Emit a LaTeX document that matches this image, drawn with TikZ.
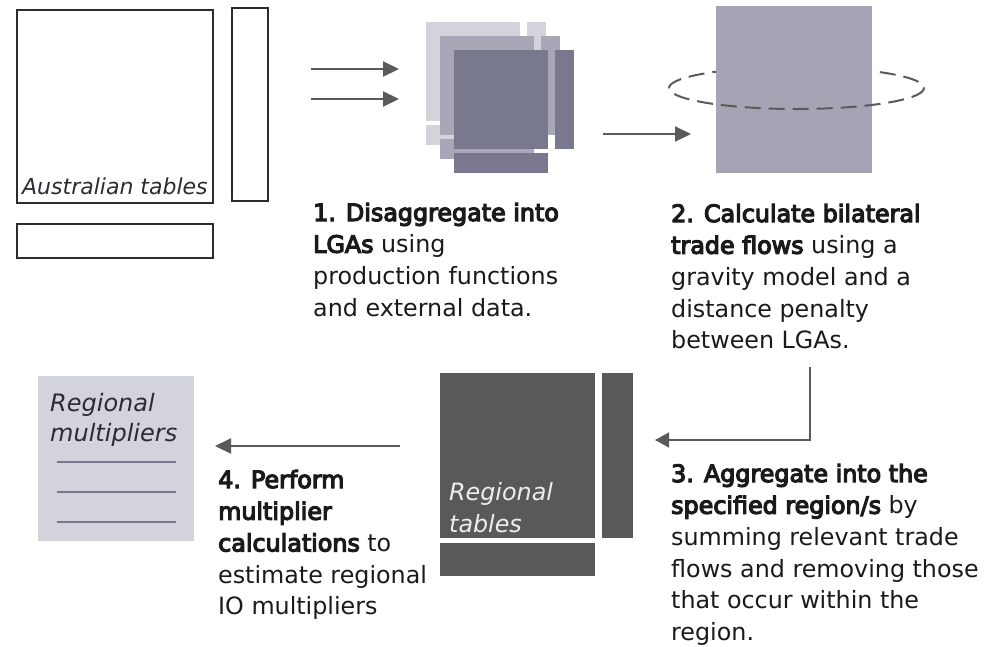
\documentclass[tikz,border=0pt]{standalone}
\usepackage{fontspec}
\setmainfont{DejaVu Sans}[BoldFont={DejaVu Sans}, BoldFeatures={FakeBold=5}]
\usetikzlibrary{arrows.meta}
\definecolor{txt}{HTML}{1A1A1A}
\definecolor{outl}{HTML}{2B2B33}
\definecolor{arr}{HTML}{5A5A5A}
\definecolor{lay1}{HTML}{D3D3DC}
\definecolor{lay2}{HTML}{A8A7B7}
\definecolor{lay3}{HTML}{78788F}
\definecolor{grav}{HTML}{A5A4B4}
\definecolor{regt}{HTML}{595959}
\definecolor{regtxt}{HTML}{EEEEEE}
\newcommand\bodyfnt{\fontsize{23.8}{31.7}\selectfont}
\newcommand\layerblock[1]{%
  \fill[#1] (0,0) rectangle (94,99);
  \fill[#1] (101,0) rectangle (120,99);
  \fill[#1] (0,103) rectangle (94,123);}
\tikzset{
  arrowline/.style={draw=arr, line width=2pt, -{Triangle[length=16pt,width=15pt]}},
  textblock/.style={anchor=base west, inner sep=0pt, text=txt, font=\bodyfnt},
  label/.style={anchor=base west, inner sep=0pt},
  tableline/.style={draw=outl, line width=1.8pt},
  ring/.style={draw=arr, line width=2pt, dash pattern=on 16pt off 8pt},
}
\begin{document}
\begin{tikzpicture}[x=1pt,y=-1pt]
\useasboundingbox (0,0) rectangle (992,646);

% Australian tables
\draw[tableline] (17,10) rectangle (213,203);
\draw[tableline] (232,8) rectangle (268,201);
\draw[tableline] (17,224) rectangle (213,258);
\node[label, text=outl, font=\fontsize{22}{26}\selectfont\itshape] (aus) at (22,194) {Australian tables};

% arrows into step 1
\coordinate (a1s) at (311,69); \coordinate (a1e) at (399,69);
\coordinate (a2s) at (311,99); \coordinate (a2e) at (399,99);
\draw[arrowline] (a1s) -- (a1e);
\draw[arrowline] (a2s) -- (a2e);

% stacked LGA tables
\begin{scope}[shift={(426,22)}]\layerblock{lay1}\end{scope}
\begin{scope}[shift={(440,36)}]\layerblock{lay2}\end{scope}
\begin{scope}[shift={(454,50)}]\layerblock{lay3}\end{scope}

% arrow into step 2
\coordinate (a3s) at (603,134); \coordinate (a3e) at (691,134);
\draw[arrowline] (a3s) -- (a3e);

% gravity square with ring
\coordinate (ring) at (796.5,88);
\draw[ring] (ring) ellipse [x radius=127.5, y radius=21];
\fill[grav] (716,6) rectangle (872,173);
\begin{scope}
\clip (716,88) rectangle (872,120);
\draw[ring] (ring) ellipse [x radius=127.5, y radius=21];
\end{scope}

% step texts
\node[textblock] (s1) at (313,221) {\begin{tabular}[t]{@{}l@{}}
\textbf{1. Disaggregate into}\\
\textbf{LGAs} using\\
production functions\\
and external data.
\end{tabular}};

\node[textblock] (s2) at (671,222) {\begin{tabular}[t]{@{}l@{}}
\textbf{2. Calculate bilateral}\\
\textbf{trade flows} using a\\
gravity model and a\\
distance penalty\\
between LGAs.
\end{tabular}};

\node[textblock] (s3) at (671,482) {\begin{tabular}[t]{@{}l@{}}
\textbf{3. Aggregate into the}\\
\textbf{specified region/s} by\\
summing relevant trade\\
flows and removing those\\
that occur within the\\
region.
\end{tabular}};

\node[textblock] (s4) at (218,488) {\begin{tabular}[t]{@{}l@{}}
\textbf{4. Perform}\\
\textbf{multiplier}\\
\textbf{calculations} to\\
estimate regional\\
IO multipliers
\end{tabular}};

% connector step 2 -> step 3
\coordinate (c3s) at (810,367); \coordinate (c3e) at (655,440);
\draw[draw=arr, line width=1.4pt, -{Triangle[length=14pt,width=15pt]}] (c3s) |- (c3e);

% regional tables
\fill[regt] (440,373) rectangle (595,538);
\fill[regt] (602,373) rectangle (633,538);
\fill[regt] (440,543) rectangle (595,576);
\node[label, text=regtxt, font=\fontsize{23.8}{32}\selectfont\itshape] (regtab) at (449,500)
  {\begin{tabular}[t]{@{}l@{}}Regional\\tables\end{tabular}};

% arrow to multipliers
\coordinate (a4s) at (400,446); \coordinate (a4e) at (215,446);
\draw[arrowline] (a4s) -- (a4e);

% regional multipliers
\fill[lay1] (38,376) rectangle (194,541);
\node[label, text=outl, font=\fontsize{24}{30}\selectfont\itshape] (regmul) at (50,411)
  {\begin{tabular}[t]{@{}l@{}}Regional\\multipliers\end{tabular}};
\foreach \yy in {462,492,522}
  \draw[lay3, line width=1.5pt] (57,\yy) -- (176,\yy);
\end{tikzpicture}
\end{document}
